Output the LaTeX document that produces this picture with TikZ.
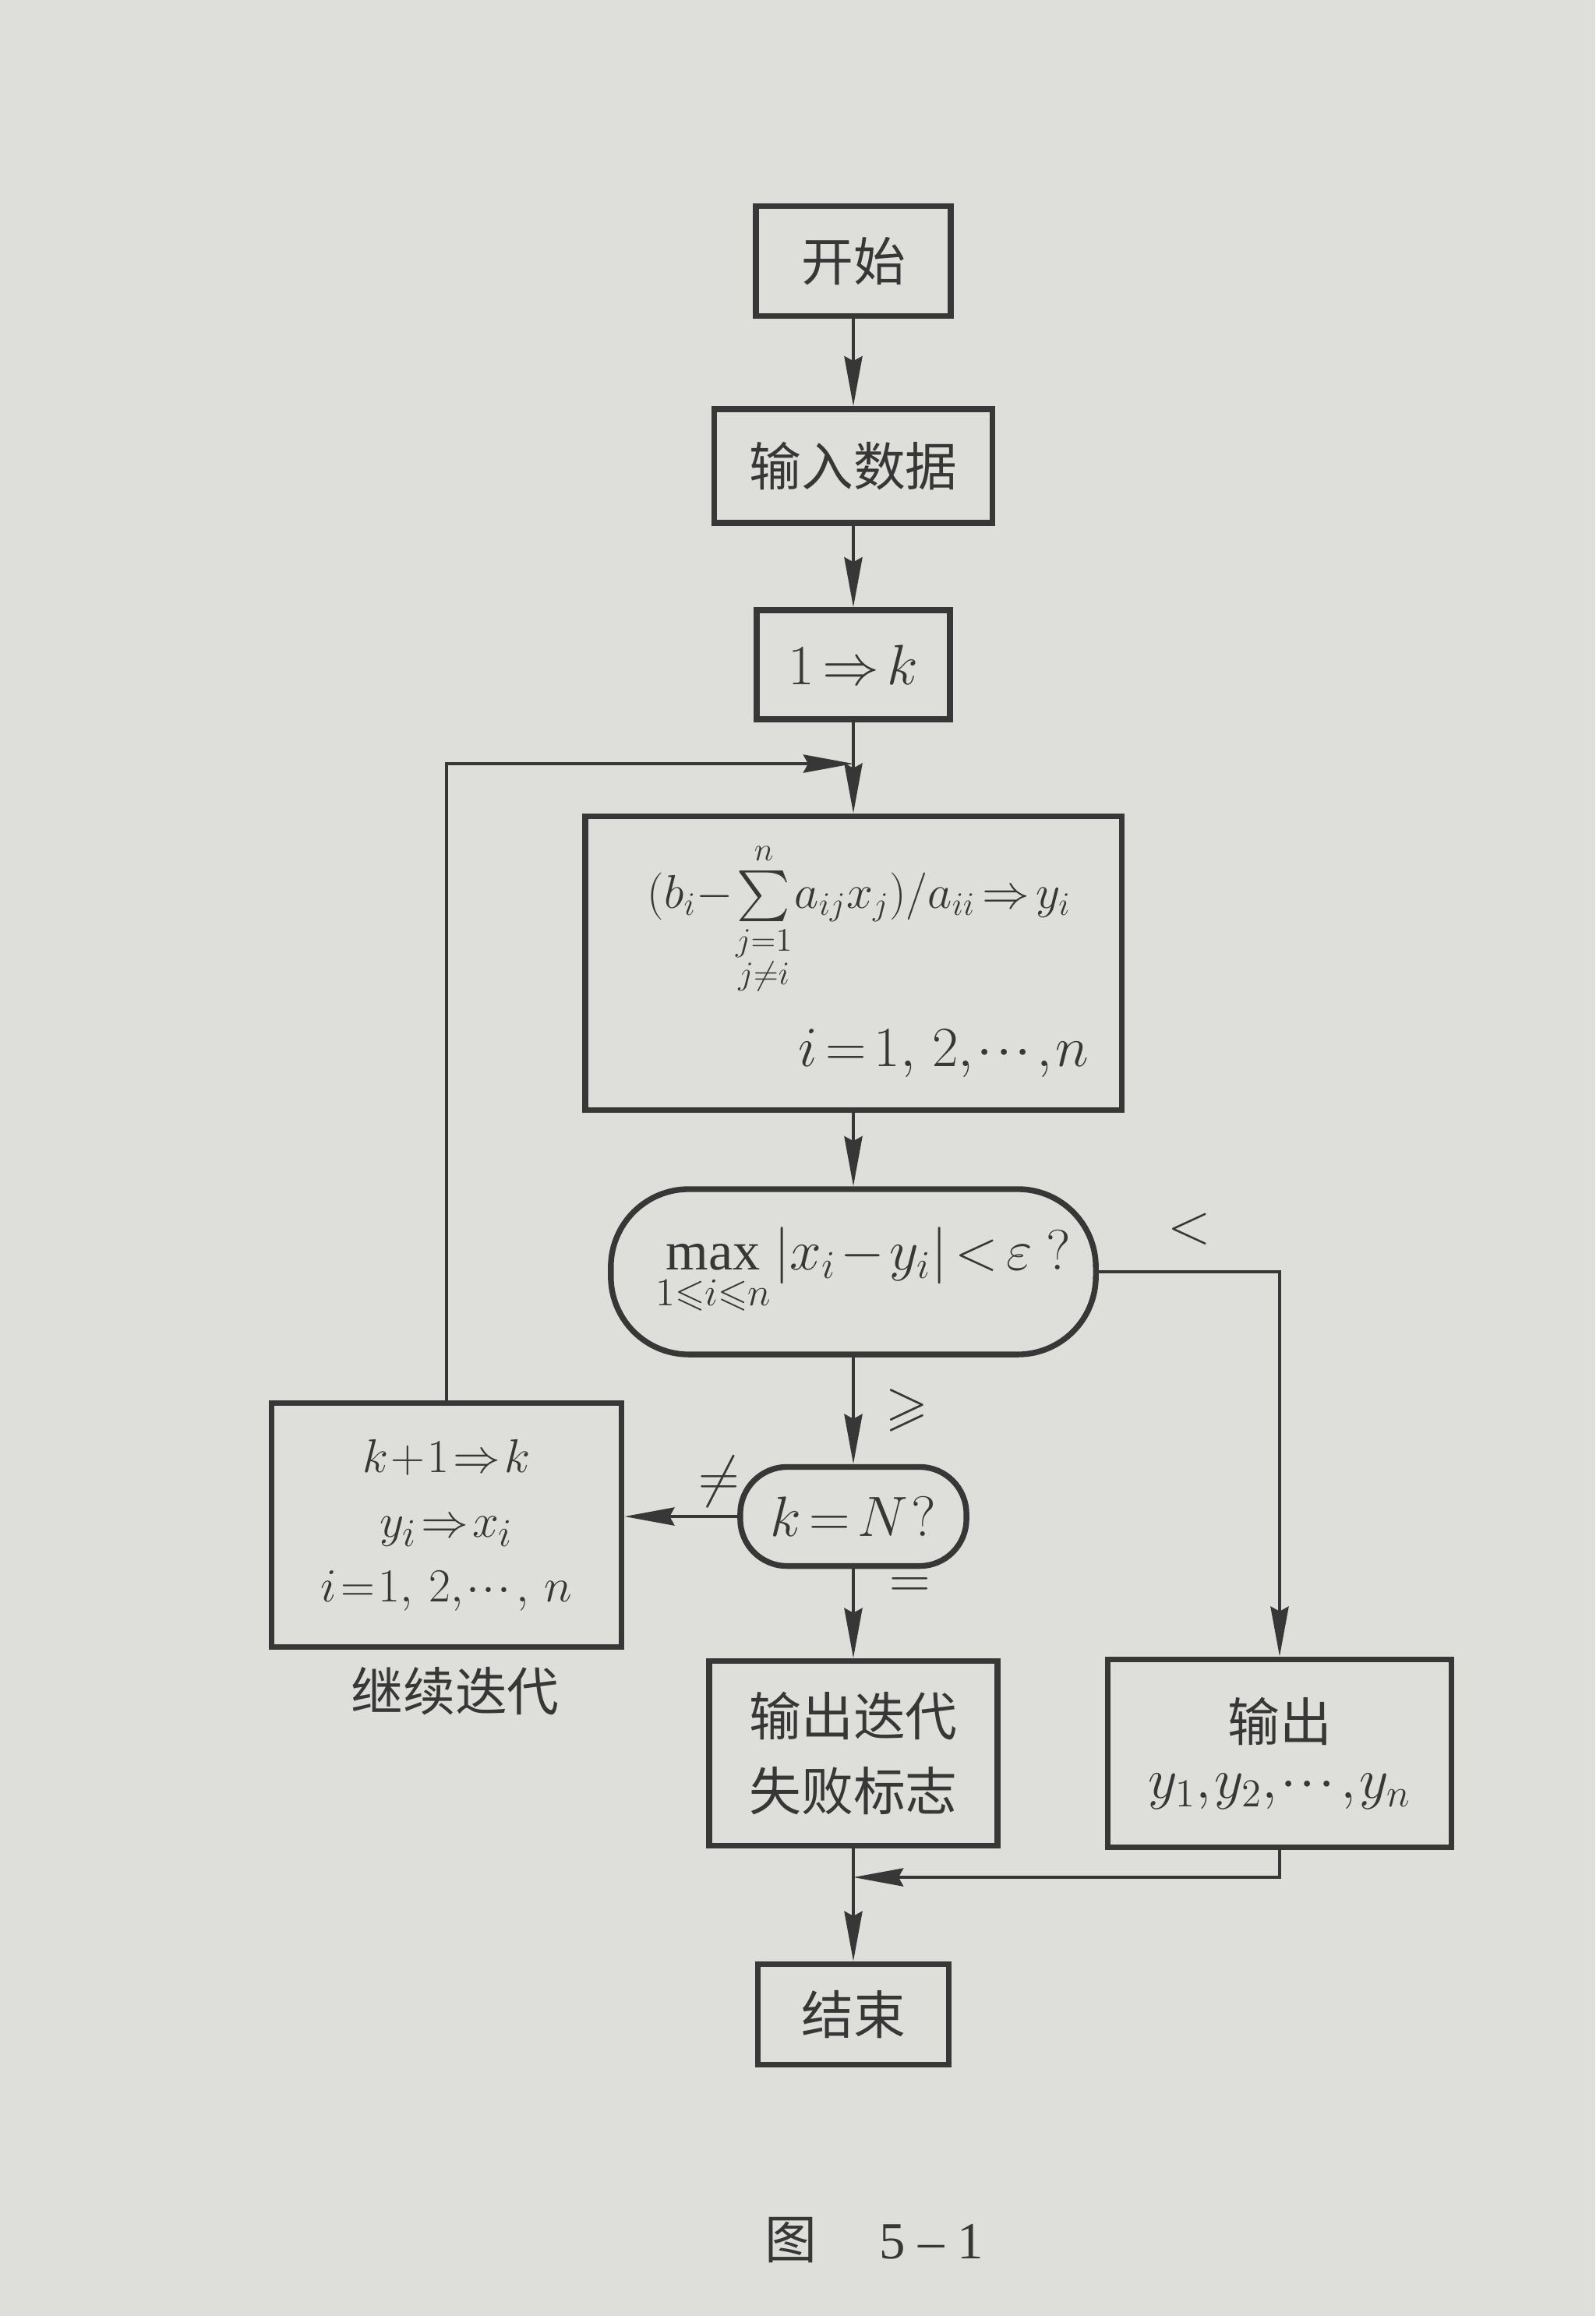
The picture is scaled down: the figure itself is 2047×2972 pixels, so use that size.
\documentclass[tikz,border=0pt]{standalone}
\usepackage{amsmath}
\usepackage{amssymb}
\usepackage{fontspec}
\setmainfont{Liberation Serif}
\newfontfamily\cjk{Noto Sans CJK SC}
\usetikzlibrary{arrows.meta}
\definecolor{paper}{RGB}{222,222,219}
\definecolor{ink}{RGB}{55,55,55}
\newcommand{\tightmath}{\thickmuskip=2.5mu plus 1mu\medmuskip=1.5mu plus 1mu\thinmuskip=1mu}
\newcommand{\tightermath}{\thickmuskip=1.5mu plus 1mu\medmuskip=1mu plus 1mu\thinmuskip=1mu}
\tikzset{
  box/.style={draw=ink, line width=2.1pt, inner sep=0pt, align=center, text=ink},
  conn/.style={draw=ink, line width=1.3pt, -{Stealth[length=0.64cm,width=0.23cm,inset=0.06cm]}},
  cjkf/.style={font=\cjk\fontsize{19}{27.5}\selectfont},
  mathf/.style={font=\fontsize{20}{23}\selectfont\tightmath},
  lab/.style={text=ink, inner sep=0pt, font=\fontsize{20}{23}\selectfont\tightmath},
}
\begin{document}
\begin{tikzpicture}[x=0.01cm, y=-0.01cm]
\fill[paper] (0,0) rectangle (2047,2972);
\useasboundingbox (0,0) rectangle (2047,2972);
% main column
\node[box, cjkf, minimum width=2.50cm, minimum height=1.41cm] (start) at (1095,335) {开始};
\node[box, cjkf, minimum width=3.57cm, minimum height=1.46cm] (inp) at (1095,598) {输入数据};
\node[box, mathf, minimum width=2.48cm, minimum height=1.40cm] (init) at (1095,853) {$1\Rightarrow k$};
\coordinate (join1) at (1095,980);
\node[box, minimum width=6.88cm, minimum height=3.77cm] (jac) at (1095,1236) {};
\node[lab, anchor=base west, font=\fontsize{18.5}{22}\selectfont\tightmath] (jacf) at (830,1165)
  {$(b_i{-}\textstyle\sum\limits_{\substack{j=1\\ j\neq i}}^{n}a_{ij}x_j)/a_{ii}\Rightarrow y_i$};
\node[lab, anchor=base east, font=\fontsize{19.5}{22}\selectfont\tightmath] (jaci) at (1398,1368) {$i=1,\ 2,\cdots,n$};
\node[box, mathf, minimum width=6.22cm, minimum height=2.12cm, rounded corners=1.0cm] (dec1) at (1095,1632)
  {\hspace*{0.25cm}$\max\limits_{1\leqslant i\leqslant n}|x_i-y_i|<\varepsilon\ ?$};
\node[box, mathf, minimum width=2.90cm, minimum height=1.27cm, rounded corners=0.6cm] (dec2) at (1095,1946) {$k=N\,?$};
\node[box, minimum width=4.49cm, minimum height=3.13cm, font=\fontsize{19}{22.5}\selectfont\tightermath] (cont) at (573,1957)
  {\rule{0pt}{0.2cm}$k+1\Rightarrow k$\\[0.04cm] $y_i\Rightarrow x_i$\\[0.04cm] $i=1,\ 2,\cdots,\ n$};
\node[lab, cjkf] (contlab) at (584,2170) {继续迭代};
\node[box, cjkf, minimum width=3.70cm, minimum height=2.37cm] (fail) at (1095,2250) {输出迭代\\失败标志};
\node[box, minimum width=4.41cm, minimum height=2.41cm] (out) at (1642,2250)
  {{\cjk\fontsize{19}{27}\selectfont 输出}\\[0.3cm]{\fontsize{20.5}{23}\selectfont\tightmath $y_1, y_2,\cdots, y_n$}};
\coordinate (join2) at (1095,2409);
\node[box, cjkf, minimum width=2.45cm, minimum height=1.29cm] (end) at (1095,2585) {结束};
\node[lab, font=\fontsize{19}{22}\selectfont] (cap) at (1122,2875) {{\cjk 图}\hspace{0.8cm}5 – 1};
% connectors
\draw[conn] (start.south) -- (inp.north);
\draw[conn] (inp.south) -- (init.north);
\draw[conn] (init.south) -- (jac.north);
\draw[conn] (cont.north) |- (join1);
\draw[conn] (jac.south) -- (dec1.north);
\draw[conn] (dec1.south) -- (dec2.north);
\draw[conn] (dec2.west) -- (dec2.west -| cont.east);
\draw[conn] (dec2.south) -- (fail.north);
\draw[conn] (dec1.east) -| (out.north);
\draw[conn] (fail.south) -- (end.north);
\draw[conn] (out.south) |- (join2);
% branch labels
\node[lab] (lge) at (1164,1810) {$\geqslant$};
\node[lab] (lne) at (923,1901) {$\neq$};
\node[lab] (leq) at (1168,2038) {$=$};
\node[lab] (llt) at (1526,1577) {$<$};
\end{tikzpicture}
\end{document}
